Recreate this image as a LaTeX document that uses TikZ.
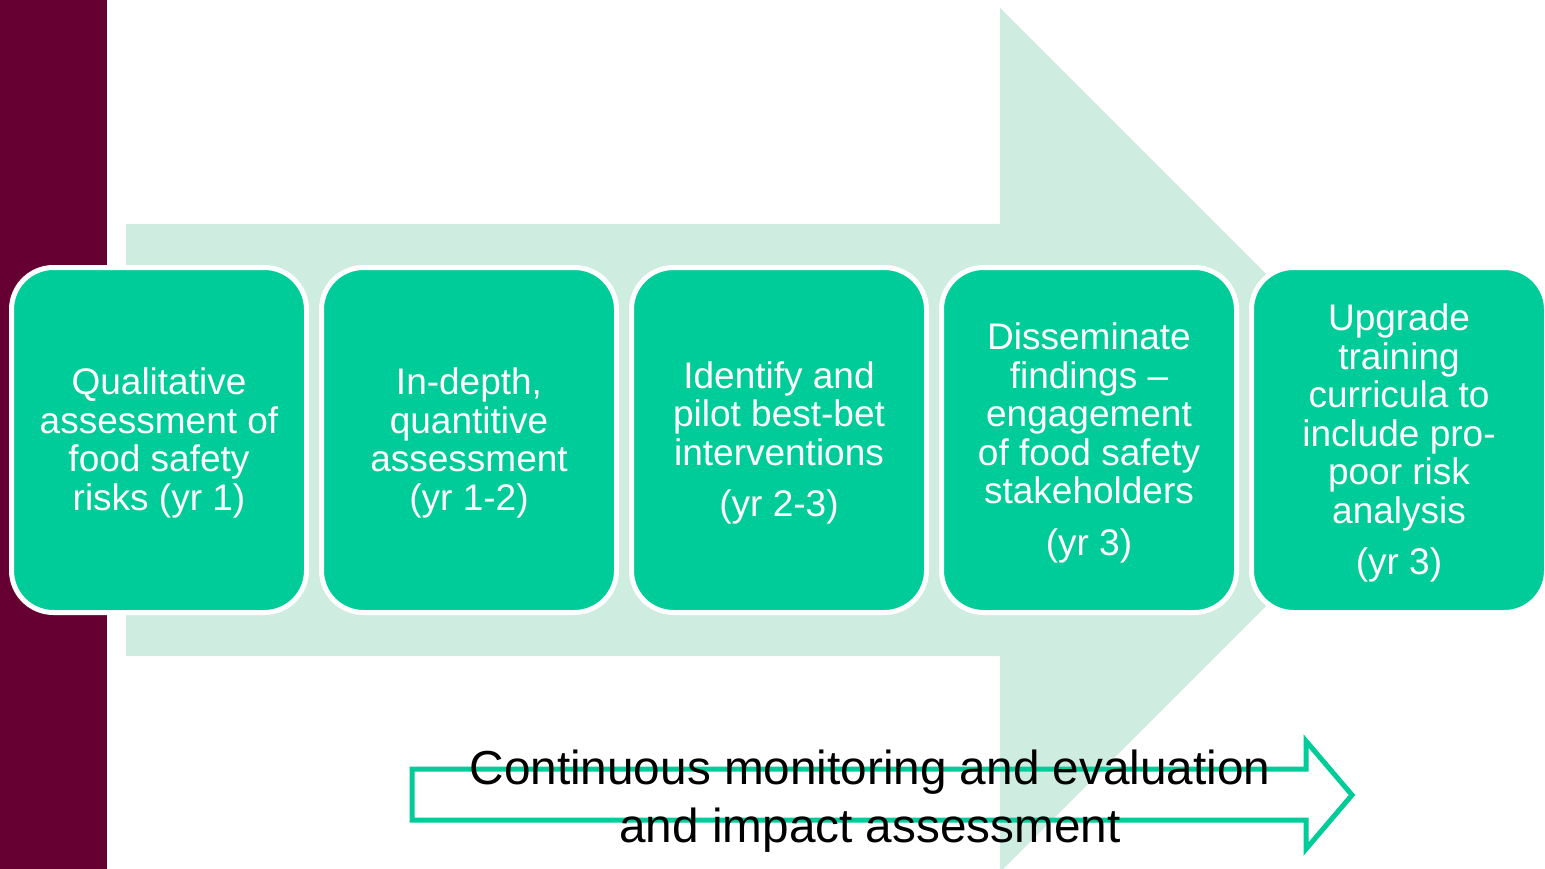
\documentclass[tikz,border=0pt]{standalone}
\usepackage{fontspec}
\setmainfont{Liberation Sans}
\definecolor{maroonbar}{RGB}{102,0,51}
\definecolor{stepgreen}{RGB}{0,204,153}
\definecolor{palegreen}{RGB}{206,236,223}
\begin{document}
\begin{tikzpicture}[x=1pt,y=-1pt,
  stepbox/.style={draw=white, line width=5pt, fill=stepgreen, rounded corners=42pt,
    minimum width=295pt, minimum height=345pt, text=white, align=center,
    font=\fontsize{37}{38.5}\selectfont, inner sep=0pt},
  monarrow/.style={draw=stepgreen, line width=5pt, miter limit=10},
  montext/.style={text=black, align=center, font=\fontsize{47.7}{58}\selectfont, inner sep=0pt}]
\useasboundingbox (0,0) rectangle (1545,869);
% maroon side bar
\fill[maroonbar] (0,0) rectangle (107,869);
% big pale arrow
\fill[palegreen] (126,224) -- (1000,224) -- (1000,8) -- (1432,440) -- (1000,872)
  -- (1000,656) -- (126,656) -- cycle;
% steps
\node[stepbox] (s1) at (159,440) {};
\node[stepbox] (s2) at (469,440) {};
\node[stepbox] (s3) at (779,440) {};
\node[stepbox] (s4) at (1089,440) {};
\node[stepbox] (s5) at (1399,440) {};
\begin{scope}[every node/.style={text=white, align=center, inner sep=0pt,
    font=\fontsize{37}{38.5}\selectfont}]
\node (t1) at ([yshift=-3pt]s1.center) {Qualitative\\assessment of\\food safety\\risks (yr 1)};
\node (t2) at ([yshift=-3pt]s2.center) {In-depth,\\quantitive\\assessment\\(yr 1-2)};
\node (t3) at ([yshift=-3pt]s3.center) {Identify and\\pilot best-bet\\interventions\\[13pt](yr 2-3)};
\node (t4) at ([yshift=-3pt]s4.center) {Disseminate\\findings –\\engagement\\of food safety\\stakeholders\\[13pt](yr 3)};
\node (t5) at ([yshift=-3pt]s5.center) {Upgrade\\training\\curricula to\\include pro-\\poor risk\\analysis\\[13pt](yr 3)};
\end{scope}
% monitoring arrow
\draw[monarrow] (412,769) -- (1306,769) -- (1306,741) -- (1352,795) -- (1306,849)
  -- (1306,820) -- (412,820) -- cycle;
\node[montext] (mon) at (870,801) {Continuous monitoring and evaluation\\and impact assessment};
\end{tikzpicture}
\end{document}
